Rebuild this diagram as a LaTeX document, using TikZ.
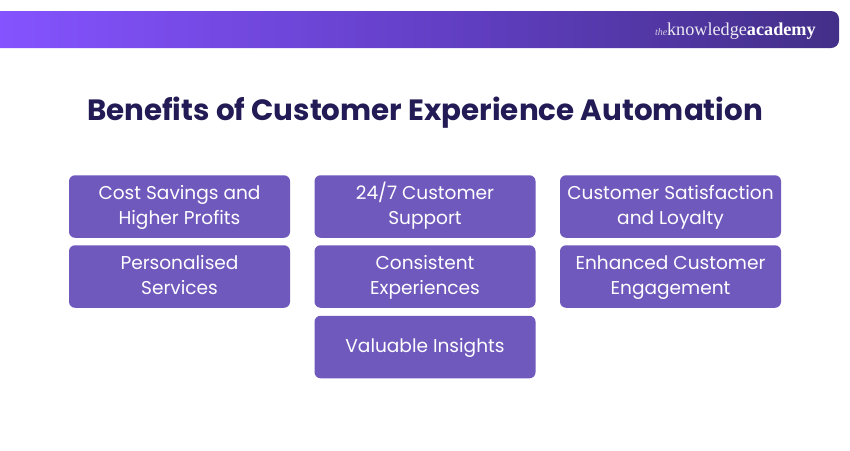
\documentclass[tikz,border=0pt]{standalone}
\usepackage{fontspec}
\setmainfont{Poppins}
\newfontfamily\logofont{Liberation Serif}
\definecolor{boxfill}{HTML}{7059BD}
\definecolor{titlecol}{HTML}{231B55}
\definecolor{barl}{HTML}{8553FF}
\definecolor{barm}{HTML}{6440C8}
\definecolor{barr}{HTML}{432F88}
\pgfdeclarehorizontalshading{barshade}{100bp}{color(0bp)=(barl); color(25bp)=(barl); color(50bp)=(barm); color(75bp)=(barr); color(100bp)=(barr)}
\newcommand{\ls}{\rule[-7pt]{0pt}{24pt}}
\newcommand{\lsb}{\rule[-7pt]{0pt}{25.2pt}}
\tikzset{
  x=1pt,y=-1pt,
  benefit/.style={draw=none,fill=boxfill,rounded corners=6pt,minimum width=221pt,minimum height=62.5pt,
    inner sep=0pt,align=center,text=white,font=\fontsize{18.55}{25.4}\selectfont},
  heading/.style={text=titlecol,inner sep=0pt,font=\fontsize{29.35}{34}\selectfont\bfseries},
  logotext/.style={text=white,inner sep=0pt,anchor=base west}
}
\begin{document}
\begin{tikzpicture}
\useasboundingbox (0,0) rectangle (850,450);
\fill[white] (0,0) rectangle (850,450);
\path[shading=barshade,shading angle=0] (0,11) [rounded corners=8pt] -- (839,11) -- (839,48) [sharp corners] -- (0,48) -- cycle;
\node[logotext] (logo) at (655,35) {\logofont\fontsize{10}{10}\selectfont\itshape\color{white!75!barr}the\hspace{-0.3pt}\fontsize{18.2}{18.2}\selectfont\upshape\color{white!90!barr}knowledge\bfseries\color{white}academy};
\node[heading] (title) at (425,113) {Benefits of Customer Experience Automation};
\node[benefit] (a1) at (179.5,206.5) {\lsb Cost Savings and\\\ls Higher Profits};
\node[benefit] (a2) at (179.5,276.5) {\lsb Personalised\\\ls Services};
\node[benefit] (b1) at (425,206.5) {\ls 24/7 Customer\\\ls Support};
\node[benefit] (b2) at (425,276.5) {\lsb Consistent\\\ls Experiences};
\node[benefit] (b3) at (425,347) {\ls Valuable Insights};
\node[benefit] (c1) at (670.5,206.5) {\lsb Customer Satisfaction\\\ls and Loyalty};
\node[benefit] (c2) at (670.5,276.5) {\lsb Enhanced Customer\\\ls Engagement};
\end{tikzpicture}
\end{document}
